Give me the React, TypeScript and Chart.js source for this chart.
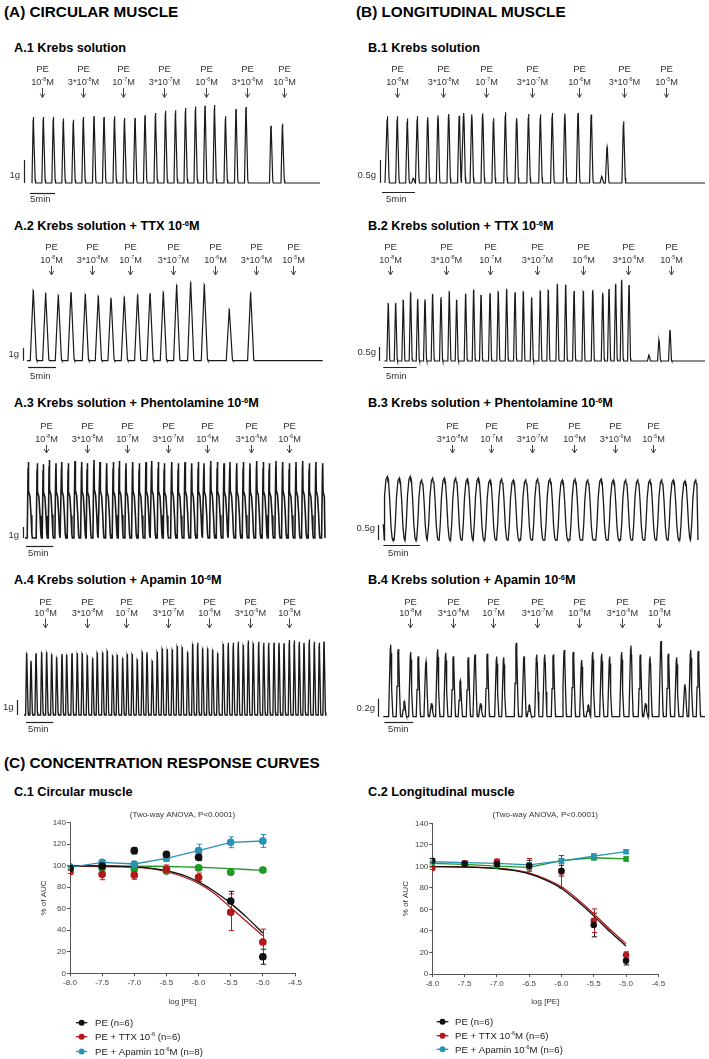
import React, { useEffect, useRef } from "react";
import { Chart, registerables } from "chart.js";
Chart.register(...registerables);

const FONT = '"Liberation Sans", Arial, Helvetica, sans-serif';

// ---------------- DATA: PE additions (labels, times in min from the 5-min bar start) ----------------
const peLabels7 = ["10^-8M", "3*10^-8M", "10^-7M", "3*10^-7M", "10^-6M", "3*10^-6M", "10^-5M"];
const peLabelsA3 = ["10^-8M", "3*10^-8M", "10^-7M", "3*10^-7M", "10^-6M", "3*10^-6M", "10^-6M"];
const peLabelsB3 = ["3*10^-8M", "10^-7M", "3*10^-7M", "10^-6M", "3*10^-6M", "10^-5M"];

// A.1 Krebs (circular)
const a1PeTimes = [2.4, 10.6, 18.6, 26.8, 35.2, 43.4, 50.8];
const a1Times = [0.67, 2.67, 4.67, 6.67, 8.67, 10.67, 12.8, 14.8, 16.9, 18.9, 21.0, 23.0, 25.1, 27.1, 29.1, 31.1, 33.1, 35.0, 36.9, 39.1, 41.2, 43.2, 48.2, 50.5];
const a1Amps = [2.87, 2.87, 2.87, 2.8, 2.75, 2.87, 2.9, 2.87, 2.9, 2.83, 2.83, 2.94, 3.04, 3.14, 3.16, 3.26, 3.33, 3.36, 3.39, 2.9, 3.22, 3.3, 2.49, 2.58];

// B.1 Krebs (longitudinal)
const b1PeTimes = [2.23, 9.29, 15.7, 22.8, 29.8, 36.6, 43.1];
const b1Times = [0.81, 2.32, 3.84, 4.75, 5.35, 6.92, 8.48, 10.1, 11.7, 12.37, 13.6, 15.25, 16.9, 18.7, 20.4, 22.2, 24.0, 25.8, 27.7, 29.7, 31.7, 33.3, 34.1, 36.6];
const b1Amps = [1.45, 1.45, 1.4, 0.11, 1.45, 1.43, 1.47, 1.5, 1.46, 1.52, 1.49, 1.51, 1.41, 1.54, 1.41, 1.5, 1.49, 1.52, 1.51, 1.52, 1.49, 0.14, 0.78, 1.34];

// A.2 TTX (circular)
const a2PeTimes = [4.05, 11.43, 18.21, 25.95, 33.39, 40.66, 47.38];
const a2Times = [0.95, 3.16, 5.42, 7.68, 10.24, 12.56, 14.82, 17.2, 19.58, 21.79, 24.17, 26.55, 29.05, 31.49, 35.95, 39.76];
const a2Amps = [5.66, 5.39, 5.26, 5.47, 5.34, 5.2, 5.04, 5.12, 5.28, 5.39, 5.52, 6.06, 6.27, 6.11, 4.14, 5.44];

// B.2 TTX (longitudinal)
const b2PeTimes = [1.0, 9.36, 16.0, 23.0, 30.0, 36.7, 43.2];
const b2Times = [0.75, 1.86, 3.0, 4.1, 5.16, 6.25, 7.4, 8.65, 9.9, 11.0, 12.35, 13.55, 14.65, 16.0, 17.24, 18.5, 19.75, 21.0, 22.25, 23.54, 24.74, 26.1, 27.35, 28.6, 30.0, 31.4, 32.9, 33.84, 34.84, 35.74, 36.84, 39.83, 41.33, 42.98];
const b2Amps = [2.06, 2.06, 2.18, 2.45, 2.2, 2.2, 2.38, 2.28, 2.48, 2.18, 2.39, 2.54, 2.36, 2.42, 2.48, 2.56, 2.45, 2.48, 2.26, 2.51, 2.54, 2.74, 2.71, 2.5, 2.5, 2.54, 2.44, 2.57, 2.74, 2.88, 2.71, 0.21, 0.75, 1.11];

// A.3 Phentolamine (circular)
const a3PeTimes = [3.66, 11.2, 18.4, 26.0, 33.1, 41.1, 48.1];
const a3Times = [0.42, 2.06, 3.16, 4.26, 5.48, 6.53, 7.73, 8.96, 10.18, 11.2, 12.43, 13.53, 14.75, 15.96, 17.06, 18.28, 19.5, 20.71, 21.94, 22.98, 24.19, 25.29, 26.64, 27.84, 29.07, 30.29, 31.5, 32.54, 33.77, 34.98, 36.2, 37.29, 38.52, 39.73, 40.95, 42.17, 43.38, 44.48, 45.7, 46.92, 48.14, 49.36, 50.58, 51.79, 53.0, 54.24];
const a3Amps = [6.9, 6.8, 6.7, 7.1, 6.8, 6.9, 6.8, 7.0, 6.9, 6.8, 7.1, 6.9, 6.8, 6.9, 7.0, 6.8, 6.9, 6.8, 6.9, 7.0, 6.9, 6.8, 6.9, 6.8, 6.9, 6.8, 6.9, 6.8, 7.0, 6.9, 6.8, 6.9, 6.8, 6.9, 6.8, 7.0, 6.9, 6.8, 7.0, 6.9, 6.8, 6.9, 7.0, 6.8, 6.9, 6.8];

// B.3 Phentolamine (longitudinal)
const b3PeTimes = [9.33, 14.65, 20.33, 26.0, 31.6, 36.75];
const b3Times = [0.55, 2.18, 3.68, 5.24, 6.74, 8.32, 9.88, 11.46, 12.96, 14.56, 16.15, 17.74, 19.43, 21.06, 22.74, 24.42, 26.15, 27.89, 29.7, 31.38, 33.07, 34.71, 36.38, 37.98, 39.56, 41.16, 42.62];
const b3Amps = [2.11, 2.06, 2.11, 2.0, 2.06, 2.06, 2.06, 2.03, 2.06, 2.0, 2.03, 2.0, 2.0, 2.03, 2.03, 2.0, 2.03, 2.0, 2.03, 2.0, 2.0, 2.0, 2.0, 2.0, 2.0, 1.97, 2.0];

// A.4 Apamin (circular)
const a4PeTimes = [3.47, 11.1, 18.28, 25.9, 33.5, 40.95, 48.03];
const a4Times = [0.13, 0.91, 1.83, 2.87, 3.78, 4.7, 5.61, 6.58, 7.44, 8.41, 9.38, 10.29, 11.21, 12.19, 13.03, 14.02, 14.86, 15.85, 16.69, 17.68, 18.52, 19.43, 20.35, 21.26, 22.12, 23.09, 24.0, 24.92, 25.83, 26.75, 27.66, 28.57, 29.56, 30.48, 31.39, 32.3, 33.22, 34.13, 35.05, 36.07, 36.98, 37.9, 38.81, 39.73, 40.64, 41.55, 42.54, 43.46, 44.37, 45.34, 46.25, 47.17, 48.14, 49.05, 49.96, 50.82, 51.79, 52.71, 53.62, 54.48];
const a4Amps = [4.11, 3.62, 4.11, 4.16, 4.18, 4.04, 3.84, 4.07, 4.0, 4.11, 4.11, 4.11, 3.98, 3.78, 4.16, 4.16, 4.29, 3.96, 4.0, 3.78, 4.07, 4.07, 3.71, 4.22, 4.18, 3.62, 4.22, 4.44, 4.38, 4.38, 4.6, 4.51, 4.18, 4.73, 4.82, 4.44, 4.44, 4.33, 4.11, 4.73, 4.82, 4.82, 4.89, 4.67, 4.96, 4.78, 4.89, 4.82, 4.82, 4.82, 4.82, 4.78, 5.0, 4.96, 4.89, 4.82, 5.04, 4.89, 4.82, 4.89];

// B.4 Apamin (longitudinal)
const b4PeTimes = [4.43, 11.79, 18.79, 26.28, 33.62, 40.93, 47.41];
const b4Times = [1.1, 2.41, 3.45, 4.55, 5.86, 7.19, 8.17, 9.2, 10.59, 11.9, 13.1, 14.48, 15.64, 16.62, 17.76, 19.38, 20.59, 22.76, 24.09, 25.0, 26.28, 27.66, 29.14, 31.03, 32.59, 34.03, 35.17, 35.93, 37.48, 38.86, 40.93, 42.53, 44.14, 45.07, 45.81, 47.71, 48.97, 50.41, 51.84, 52.83, 54.14];
const b4Amps = [0.8, 0.75, 0.17, 0.72, 0.67, 0.61, 0.15, 0.75, 0.71, 0.67, 0.4, 0.66, 0.69, 0.15, 0.7, 0.67, 0.66, 0.82, 0.67, 0.13, 0.69, 0.69, 0.69, 0.74, 0.72, 0.63, 0.13, 0.72, 0.7, 0.67, 0.72, 0.79, 0.69, 0.15, 0.67, 0.84, 0.7, 0.66, 0.36, 0.74, 0.73];

// ---------------- DATA: concentration-response curves ----------------
const logPE = [-8, -7.5, -7, -6.5, -6, -5.5, -5];
const fitX = [-8, -7.75, -7.5, -7.25, -7, -6.75, -6.5, -6.25, -6, -5.75, -5.5, -5.25, -5];

const c1PeMean = [97.6, 99.7, 114, 110.6, 107.8, 67.2, 15.4];
const c1PeErr = [1.5, 1.5, 3, 2, 3, 9, 7];
const c1TtxMean = [94.4, 92, 91.4, 96.7, 89.2, 56.7, 29.1];
const c1TtxErr = [1.5, 5, 4, 4, 4, 17, 12];
const c1ApaMean = [98.5, 103.2, 101.6, 106.9, 114, 121.8, 123];
const c1ApaErr = [1.5, 2, 2, 3, 6, 5, 6];
const c1GreenMean = [99, 98, 97, 95, 98, 94, 96];
const c1GreenErr = [1, 3, 2, 2, 2, 1, 2];
const c1PeFit = [100, 99.9, 99.8, 99.5, 99, 97.8, 95.5, 91.5, 85, 76, 65, 52, 37.5];
const c1TtxFit = [99.6, 99.5, 99.3, 99, 98.5, 97.3, 94.5, 90, 83.5, 74, 61, 48, 35];
const c1GreenFit = [99.8, 99.8, 99.8, 99.7, 99.6, 99.5, 99.3, 99.0, 98.6, 98.0, 97.3, 96.5, 95.5];
const c1Legend = ["PE (n=6)", "PE + TTX 10^-6 (n=6)", "PE + Apamin 10^-6M (n=8)"];

const c2PeMean = [105.3, 102.2, 101.9, 100.6, 96, 45.5, 12.4];
const c2PeErr = [2, 2, 2, 5, 5, 11, 4];
const c2TtxMean = [98.2, 103, 104.5, 100.3, 95, 49.5, 17.6];
const c2TtxErr = [1, 1.5, 2, 7, 15, 11, 3];
const c2ApaMean = [104.3, 103.4, 102.8, 101.3, 105, 109.6, 113.6];
const c2ApaErr = [1.5, 1.5, 1.5, 2, 2, 2, 1.5];
const c2GreenMean = [102.8, 101.9, 100.3, 99.1, 105.3, 108, 106.9];
const c2GreenErr = [1.5, 1.5, 1.5, 2, 2, 2, 2];
const c2PeFit = [99.7, 99.6, 99.3, 98.9, 98, 96.2, 93, 87.5, 79.5, 67.5, 54, 39.5, 26];
const c2TtxFit = [99.8, 99.7, 99.5, 99.1, 98.3, 96.7, 93.8, 88.5, 81, 69.5, 56, 41.5, 28];
const c2Legend = ["PE (n=6)", "PE + TTX 10^-6M (n=6)", "PE + Apamin 10^-6M (n=6)"];

const yTicks = [0, 20, 40, 60, 80, 100, 120, 140];
const anovaText = "(Two-way ANOVA, P<0.0001)";

// ---------------- styles ----------------
const BLACK = "#111111";
const RED = "#b3191c";
const BLUE = "#2a92b8";
const GREEN = "#1f9a24";

// ---------------- helpers ----------------
function drawRich(ctx: any, text: string, x: number, y: number, size: number, align: string, color: string, bold = false) {
  const parts = text.split(/(\^-?\d+)/).filter((p) => p.length);
  const fontFor = (sup: boolean) => `${bold ? "bold " : ""}${sup ? size * 0.58 : size}px ${FONT}`;
  let total = 0;
  for (const p of parts) {
    const sup = p.startsWith("^");
    ctx.font = fontFor(sup);
    total += ctx.measureText(sup ? p.slice(1) : p).width;
  }
  let cx = align === "center" ? x - total / 2 : align === "right" ? x - total : x;
  ctx.fillStyle = color;
  ctx.textAlign = "left";
  ctx.textBaseline = "alphabetic";
  for (const p of parts) {
    const sup = p.startsWith("^");
    const t = sup ? p.slice(1) : p;
    ctx.font = fontFor(sup);
    ctx.fillText(t, cx, sup ? y - size * 0.42 : y);
    cx += ctx.measureText(t).width;
  }
}

function buildTrace(times: number[], amps: number[], tpl: number[][], xmin: number, xmax: number) {
  const pts: { x: number; y: number }[] = [{ x: xmin, y: 0 }];
  times.forEach((t, i) => {
    tpl.forEach(([dt, f]) => pts.push({ x: t + dt, y: amps[i] * f }));
  });
  pts.push({ x: xmax, y: 0 });
  pts.sort((a, b) => a.x - b.x);
  return pts;
}

function RichHtml({ text }: { text: string }) {
  const parts = text.split(/(\^-?\d+)/).filter((p) => p.length);
  return (
    <>
      {parts.map((p, i) =>
        p.startsWith("^") ? (
          <span key={i} style={{ fontSize: "0.6em", position: "relative", top: "-0.62em" }}>{p.slice(1)}</span>
        ) : (
          <span key={i}>{p}</span>
        )
      )}
    </>
  );
}

function Label({ x, baseline, size, text }: { x: number; baseline: number; size: number; text: string }) {
  return (
    <div
      style={{
        position: "absolute",
        left: x,
        top: baseline - 0.8465 * size,
        fontSize: size,
        lineHeight: `${size}px`,
        fontWeight: 700,
        fontFamily: FONT,
        whiteSpace: "nowrap",
        color: "#000",
      }}
    >
      <RichHtml text={text} />
    </div>
  );
}

// ---------------- trace panels ----------------
const T_A1 = [[-0.3, 0], [-0.04, 0.96], [0, 1], [0.06, 0.9], [0.35, 0.05], [0.45, 0]];
const T_B1 = [[-0.25, 0], [-0.04, 0.95], [0, 1], [0.06, 0.9], [0.25, 0.08], [0.32, 0]];
const T_A2 = [[-0.55, 0], [-0.03, 0.97], [0, 1], [0.05, 0.95], [0.55, 0.02], [0.65, 0]];
const T_B2 = [[-0.22, 0], [-0.03, 0.96], [0, 1], [0.04, 0.94], [0.22, 0.03], [0.28, 0]];
const T_A3 = [[-0.2, 0], [-0.04, 0.92], [0, 1], [0.07, 0.62], [0.3, 0.55], [0.5, 0.3], [0.65, 0.05], [0.75, 0]];
const T_B3 = [[-0.7, 0], [-0.55, 0.25], [-0.38, 0.7], [-0.18, 0.96], [0, 1], [0.08, 0.93], [0.16, 0.94], [0.32, 0.65], [0.5, 0.22], [0.65, 0.03], [0.75, 0]];
const T_A4 = [[-0.2, 0], [-0.03, 0.96], [0, 1], [0.04, 0.94], [0.25, 0.04], [0.32, 0]];
const T_B4 = [[-0.35, 0], [-0.22, 0.45], [-0.07, 0.95], [0, 1], [0.06, 0.85], [0.1, 0.88], [0.22, 0.4], [0.35, 0.05], [0.4, 0]];

const L = { left: 0, width: 355 };
const R = { left: 355, width: 354 };

const TRACES: any[] = [
  { id: "a1", ...L, top: 58, height: 150, traceStart: 32, traceEnd: 320, barStart: 30, ppm: 5, baseline: 183, areaTop: 99, ppg: 23, lw: 1.2,
    peY: 72, concY: 85, arrowTop: 88, arrowBottom: 97.5, barG: 1, barLabel: "1g", barX: 24, barLabelRight: 20, barLabelY: 178,
    timeBarY: 193, minLabelX: 30, minLabelY: 202, tpl: T_A1, times: a1Times, amps: a1Amps, peTimes: a1PeTimes, peLabels: peLabels7 },
  { id: "b1", ...R, top: 58, height: 150, traceStart: 385, traceEnd: 705, barStart: 382, ppm: 6.6, baseline: 183, areaTop: 99, ppg: 46, lw: 1.2,
    peY: 72, concY: 85, arrowTop: 88, arrowBottom: 97.5, barG: 0.5, barLabel: "0.5g", barX: 380, barLabelRight: 376, barLabelY: 178,
    timeBarY: 192, minLabelX: 386, minLabelY: 201.5, tpl: T_B1, times: b1Times, amps: b1Amps, peTimes: b1PeTimes, peLabels: peLabels7 },
  { id: "a2", ...L, top: 236, height: 146, traceStart: 27, traceEnd: 322.7, barStart: 28, ppm: 5.6, baseline: 360.7, areaTop: 277, ppg: 12.5, lw: 1.2,
    peY: 250, concY: 262.5, arrowTop: 266, arrowBottom: 275, barG: 1, barLabel: "1g", barX: 22.7, barLabelRight: 19, barLabelY: 357,
    timeBarY: 366.7, minLabelX: 30, minLabelY: 379, tpl: T_A2, times: a2Times, amps: a2Amps, peTimes: a2PeTimes, peLabels: peLabels7 },
  { id: "b2", ...R, top: 236, height: 146, traceStart: 384.3, traceEnd: 705, barStart: 383.3, ppm: 6.67, baseline: 361, areaTop: 277, ppg: 28, lw: 1.2,
    peY: 250, concY: 262.5, arrowTop: 266, arrowBottom: 275, barG: 0.5, barLabel: "0.5g", barX: 379, barLabelRight: 376, barLabelY: 355,
    timeBarY: 367.3, minLabelX: 386, minLabelY: 379, tpl: T_B2, times: b2Times, amps: b2Amps, peTimes: b2PeTimes, peLabels: peLabels7 },
  { id: "a3", ...L, top: 413, height: 146, traceStart: 25, traceEnd: 325, barStart: 26, ppm: 5.47, baseline: 538, areaTop: 455, ppg: 11, lw: 1.6,
    peY: 428.5, concY: 442, arrowTop: 445, arrowBottom: 453, barG: 1, barLabel: "1g", barX: 22.7, barLabelRight: 19, barLabelY: 538,
    timeBarY: 546, minLabelX: 28, minLabelY: 556, tpl: T_A3, times: a3Times, amps: a3Amps, peTimes: a3PeTimes, peLabels: peLabelsA3 },
  { id: "b3", ...R, top: 413, height: 146, traceStart: 384.3, traceEnd: 698, barStart: 383.3, ppm: 7.33, baseline: 540, areaTop: 455, ppg: 30, lw: 1.3,
    peY: 428.5, concY: 442, arrowTop: 445, arrowBottom: 453, barG: 0.5, barLabel: "0.5g", barX: 378.3, barLabelRight: 375, barLabelY: 531,
    timeBarY: 545, minLabelX: 388, minLabelY: 556, tpl: T_B3, times: b3Times, amps: b3Amps, peTimes: b3PeTimes, peLabels: peLabelsB3 },
  { id: "a4", ...L, top: 590, height: 146, traceStart: 24, traceEnd: 326.7, barStart: 26, ppm: 5.47, baseline: 715, areaTop: 632, ppg: 15, lw: 1.35,
    peY: 605, concY: 615.5, arrowTop: 618.5, arrowBottom: 628, barG: 1, barLabel: "1g", barX: 16.7, barLabelRight: 13.5, barLabelY: 710,
    timeBarY: 721.7, minLabelX: 28, minLabelY: 732, tpl: T_A4, times: a4Times, amps: a4Amps, peTimes: a4PeTimes, peLabels: peLabels7 },
  { id: "b4", ...R, top: 590, height: 146, traceStart: 383.3, traceEnd: 705, barStart: 384.3, ppm: 5.8, baseline: 716.7, areaTop: 632, ppg: 90, lw: 1.3,
    peY: 605, concY: 615.5, arrowTop: 618.5, arrowBottom: 628, barG: 0.2, barLabel: "0.2g", barX: 378.3, barLabelRight: 375, barLabelY: 711,
    timeBarY: 721.7, minLabelX: 388, minLabelY: 732, tpl: T_B4, times: b4Times, amps: b4Amps, peTimes: b4PeTimes, peLabels: peLabels7 },
];

function TraceChart({ cfg }: { cfg: any }) {
  const ref = useRef<HTMLCanvasElement>(null);
  useEffect(() => {
    const c = cfg;
    const xmin = (c.traceStart - c.barStart) / c.ppm;
    const xmax = (c.traceEnd - c.barStart) / c.ppm;
    const pts = buildTrace(c.times, c.amps, c.tpl, xmin, xmax);
    const bottomPx = c.baseline + 3;
    const deco = {
      id: "deco",
      afterDraw(chart: any) {
        const ctx = chart.ctx;
        const xs = chart.scales.x;
        const ys = chart.scales.y;
        ctx.save();
        c.peTimes.forEach((t: number, i: number) => {
          const px = Math.round(xs.getPixelForValue(t)) + 0.5;
          drawRich(ctx, "PE", px, c.peY - c.top, 9.5, "center", "#333");
          drawRich(ctx, c.peLabels[i], px, c.concY - c.top, 9.2, "center", "#333");
          const a0 = c.arrowTop - c.top;
          const a1 = c.arrowBottom - c.top;
          ctx.strokeStyle = "#444";
          ctx.lineWidth = 1;
          ctx.beginPath();
          ctx.moveTo(px, a0);
          ctx.lineTo(px, a1);
          ctx.moveTo(px - 2.3, a1 - 4);
          ctx.lineTo(px, a1);
          ctx.lineTo(px + 2.3, a1 - 4);
          ctx.stroke();
        });
        // force scale bar
        const bx = Math.round(c.barX - c.left) + 0.5;
        ctx.strokeStyle = "#222";
        ctx.lineWidth = 1.2;
        ctx.beginPath();
        ctx.moveTo(bx, ys.getPixelForValue(0));
        ctx.lineTo(bx, ys.getPixelForValue(c.barG));
        ctx.stroke();
        drawRich(ctx, c.barLabel, c.barLabelRight - c.left, c.barLabelY - c.top, 9.5, "right", "#333");
        // time bar
        const ty = Math.round(c.timeBarY - c.top) + 0.5;
        ctx.beginPath();
        ctx.moveTo(xs.getPixelForValue(0), ty);
        ctx.lineTo(xs.getPixelForValue(5), ty);
        ctx.stroke();
        drawRich(ctx, "5min", c.minLabelX - c.left, c.minLabelY - c.top, 9.5, "left", "#333");
        ctx.restore();
      },
    };
    const chart = new Chart(ref.current as HTMLCanvasElement, {
      type: "line",
      data: {
        datasets: [
          { data: pts, borderColor: "#1a1a1a", borderWidth: c.lw, pointRadius: 0, tension: 0, fill: false, clip: false } as any,
        ],
      },
      options: {
        animation: false,
        responsive: false,
        events: [],
        layout: {
          padding: {
            left: c.traceStart - c.left,
            right: c.left + c.width - c.traceEnd,
            top: c.areaTop - c.top,
            bottom: c.top + c.height - bottomPx,
          },
        },
        scales: {
          x: { type: "linear", display: false, min: xmin, max: xmax },
          y: { type: "linear", display: false, min: -3 / c.ppg, max: (c.baseline - c.areaTop) / c.ppg },
        },
        plugins: { legend: { display: false }, tooltip: { enabled: false } },
      } as any,
      plugins: [deco],
    });
    return () => chart.destroy();
  }, [cfg]);
  return (
    <canvas
      ref={ref}
      width={cfg.width}
      height={cfg.height}
      style={{ position: "absolute", left: cfg.left, top: cfg.top, width: cfg.width, height: cfg.height }}
    />
  );
}

// ---------------- concentration-response charts ----------------
const C1 = {
  left: 0, top: 805, width: 355, height: 254,
  padLeft: 35, yAxisW: 35, padRight: 60, padTop: 17.7, xAxisH: 33, padBottom: 52.7, yTitlePad: 3.8,
  radius: 3.2,
  series: [
    { mean: c1PeMean, err: c1PeErr, color: BLACK, line: false, style: "circle" },
    { mean: c1TtxMean, err: c1TtxErr, color: RED, line: false, style: "circle" },
    { mean: c1ApaMean, err: c1ApaErr, color: BLUE, line: true, style: "circle" },
    { mean: c1GreenMean, err: c1GreenErr, color: GREEN, line: false, style: "circle" },
  ],
  fits: [
    { y: c1PeFit, color: BLACK },
    { y: c1TtxFit, color: RED },
    { y: c1GreenFit, color: GREEN },
  ],
  legend: c1Legend,
  legendColors: [BLACK, RED, BLUE],
  legendX0: 76, legendX1: 87.3, legendTextX: 95, legendY: [1022.7, 1036.7, 1051.5],
};

const C2 = {
  left: 355, top: 805, width: 354, height: 254,
  padLeft: 42, yAxisW: 35.3, padRight: 50.7, padTop: 18.3, xAxisH: 32.2, padBottom: 52.8, yTitlePad: 3.5,
  radius: 2.6,
  series: [
    { mean: c2PeMean, err: c2PeErr, color: BLACK, line: false, style: "circle" },
    { mean: c2TtxMean, err: c2TtxErr, color: RED, line: false, style: "circle" },
    { mean: c2ApaMean, err: c2ApaErr, color: BLUE, line: true, style: "rect" },
    { mean: c2GreenMean, err: c2GreenErr, color: GREEN, line: true, style: "rect" },
  ],
  fits: [
    { y: c2PeFit, color: BLACK },
    { y: c2TtxFit, color: RED },
  ],
  legend: c2Legend,
  legendColors: [BLACK, RED, BLUE],
  legendX0: 436.7, legendX1: 448.3, legendTextX: 455, legendY: [1021.7, 1035.7, 1049.3],
};

function CurveChart({ cfg }: { cfg: any }) {
  const ref = useRef<HTMLCanvasElement>(null);
  useEffect(() => {
    const c = cfg;
    const datasets: any[] = [];
    c.series.forEach((s: any) => {
      datasets.push({
        data: logPE.map((x, i) => ({ x, y: s.mean[i] })),
        errs: s.err,
        borderColor: s.color,
        backgroundColor: s.color,
        pointBackgroundColor: s.color,
        pointBorderColor: s.color,
        pointRadius: s.style === "rect" ? c.radius + 0.3 : c.radius,
        pointStyle: s.style,
        borderWidth: 1.3,
        showLine: s.line,
        tension: 0,
      });
    });
    c.fits.forEach((f: any) => {
      datasets.push({
        data: fitX.map((x, i) => ({ x, y: f.y[i] })),
        borderColor: f.color,
        borderWidth: 1.3,
        pointRadius: 0,
        showLine: true,
        cubicInterpolationMode: "monotone",
      });
    });
    const errPlugin = {
      id: "errbars",
      beforeDatasetsDraw(chart: any) {
        const ctx = chart.ctx;
        const ys = chart.scales.y;
        ctx.save();
        chart.data.datasets.forEach((ds: any, di: number) => {
          if (!ds.errs) return;
          const meta = chart.getDatasetMeta(di);
          ctx.strokeStyle = ds.borderColor;
          ctx.lineWidth = 1;
          meta.data.forEach((pt: any, j: number) => {
            const v = ds.data[j].y;
            const e = ds.errs[j];
            const x = Math.round(pt.x) + 0.5;
            const yt = ys.getPixelForValue(v + e);
            const yb = ys.getPixelForValue(v - e);
            ctx.beginPath();
            ctx.moveTo(x, yt);
            ctx.lineTo(x, yb);
            ctx.moveTo(x - 2.7, yt);
            ctx.lineTo(x + 2.7, yt);
            ctx.moveTo(x - 2.7, yb);
            ctx.lineTo(x + 2.7, yb);
            ctx.stroke();
          });
        });
        ctx.restore();
      },
    };
    const deco = {
      id: "deco",
      afterDraw(chart: any) {
        const ctx = chart.ctx;
        const ca = chart.chartArea;
        ctx.save();
        ctx.font = `8px ${FONT}`;
        ctx.fillStyle = "#333";
        ctx.textAlign = "center";
        ctx.textBaseline = "middle";
        ctx.fillText(anovaText, (ca.left + ca.right) / 2, 814.3 - c.top);
        c.legend.forEach((lab: string, i: number) => {
          const y = c.legendY[i] - c.top;
          const x0 = c.legendX0 - c.left;
          const x1 = c.legendX1 - c.left;
          ctx.strokeStyle = c.legendColors[i];
          ctx.fillStyle = c.legendColors[i];
          ctx.lineWidth = 1.3;
          ctx.beginPath();
          ctx.moveTo(x0, y);
          ctx.lineTo(x1, y);
          ctx.stroke();
          ctx.beginPath();
          ctx.arc((x0 + x1) / 2, y, 3, 0, Math.PI * 2);
          ctx.fill();
          drawRich(ctx, lab, c.legendTextX - c.left, y + 3.4, 9.6, "left", "#222");
        });
        ctx.restore();
      },
    };
    const axisColor = "#555";
    const chart = new Chart(ref.current as HTMLCanvasElement, {
      type: "scatter",
      data: { datasets },
      options: {
        animation: false,
        responsive: false,
        events: [],
        layout: { padding: { left: c.padLeft, right: c.padRight, top: c.padTop, bottom: c.padBottom } },
        scales: {
          x: {
            type: "linear",
            min: -8,
            max: -4.5,
            afterFit: (s: any) => { s.height = c.xAxisH; },
            grid: { display: true, drawOnChartArea: false, drawTicks: true, tickLength: 3, color: axisColor },
            border: { display: true, color: axisColor, width: 1 },
            ticks: {
              stepSize: 0.5,
              padding: 2,
              maxRotation: 0,
              autoSkip: false,
              color: "#444",
              font: { family: FONT, size: 8 },
              callback: (v: any) => Number(v).toFixed(1),
            },
            title: { display: true, text: "log [PE]", color: "#333", font: { family: FONT, size: 8 }, padding: { top: 0, bottom: 0 } },
          },
          y: {
            type: "linear",
            min: yTicks[0],
            max: yTicks[yTicks.length - 1],
            afterFit: (s: any) => { s.width = c.yAxisW; },
            afterBuildTicks: (s: any) => { s.ticks = yTicks.map((v) => ({ value: v })); },
            grid: { display: true, drawOnChartArea: false, drawTicks: true, tickLength: 3, color: axisColor },
            border: { display: true, color: axisColor, width: 1 },
            ticks: { padding: 1, color: "#444", font: { family: FONT, size: 8 } },
            title: { display: true, text: "% of AUC", color: "#333", font: { family: FONT, size: 8 }, padding: { top: c.yTitlePad, bottom: 0 } },
          },
        },
        plugins: { legend: { display: false }, tooltip: { enabled: false } },
      } as any,
      plugins: [errPlugin, deco],
    });
    return () => chart.destroy();
  }, [cfg]);
  return (
    <canvas
      ref={ref}
      width={cfg.width}
      height={cfg.height}
      style={{ position: "absolute", left: cfg.left, top: cfg.top, width: cfg.width, height: cfg.height }}
    />
  );
}

// ---------------- headings ----------------
const HEADINGS = [
  { x: 4, b: 16.5, s: 15.3, t: "(A) CIRCULAR MUSCLE" },
  { x: 356, b: 16.5, s: 15.3, t: "(B) LONGITUDINAL MUSCLE" },
  { x: 14, b: 53, s: 12.7, t: "A.1 Krebs solution" },
  { x: 368, b: 53, s: 12.7, t: "B.1 Krebs solution" },
  { x: 14, b: 231, s: 12.7, t: "A.2 Krebs solution + TTX 10^-6M" },
  { x: 368, b: 231, s: 12.7, t: "B.2 Krebs solution + TTX 10^-6M" },
  { x: 14, b: 408, s: 12.7, t: "A.3 Krebs solution + Phentolamine 10^-6M" },
  { x: 368, b: 408, s: 12.7, t: "B.3 Krebs solution + Phentolamine 10^-6M" },
  { x: 14, b: 585, s: 12.7, t: "A.4 Krebs solution + Apamin 10^-6M" },
  { x: 368, b: 585, s: 12.7, t: "B.4 Krebs solution + Apamin 10^-6M" },
  { x: 4, b: 768, s: 15.3, t: "(C) CONCENTRATION RESPONSE CURVES" },
  { x: 14, b: 797, s: 12.7, t: "C.1 Circular muscle" },
  { x: 368, b: 797, s: 12.7, t: "C.2 Longitudinal muscle" },
];

export default function App() {
  return (
    <div style={{ position: "absolute", left: 0, top: 0, width: 709, height: 1059, overflow: "hidden", background: "#fff" }}>
      {HEADINGS.map((h, i) => (
        <Label key={i} x={h.x} baseline={h.b} size={h.s} text={h.t} />
      ))}
      {TRACES.map((cfg) => (
        <TraceChart key={cfg.id} cfg={cfg} />
      ))}
      <CurveChart cfg={C1} />
      <CurveChart cfg={C2} />
    </div>
  );
}
